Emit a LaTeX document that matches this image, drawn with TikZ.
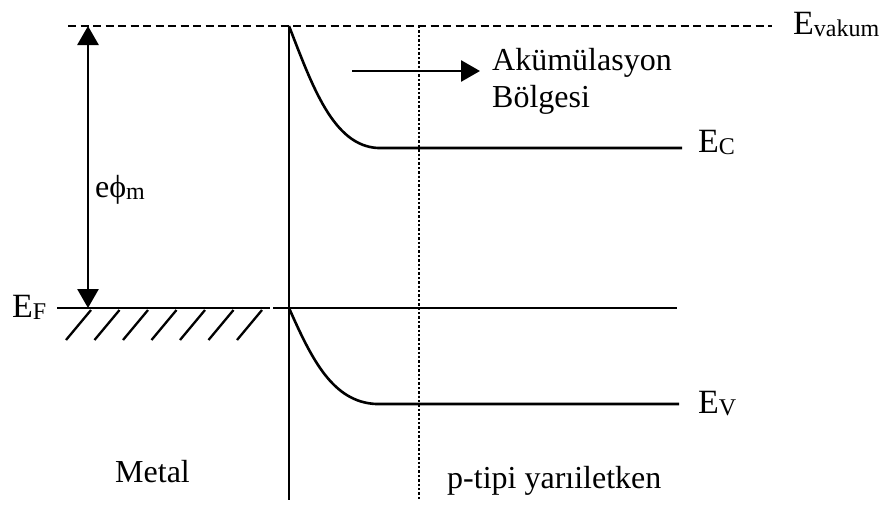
\documentclass[tikz,border=0pt]{standalone}
\usepackage{fontspec}
\setmainfont{Liberation Serif}
\usetikzlibrary{arrows.meta}
\newcommand{\subtxt}[1]{\raisebox{-2pt}{\fontsize{24}{26}\selectfont #1}}
\tikzset{
  lbl/.style={anchor=base west, inner sep=0pt, font=\fontsize{32}{38}\selectfont},
  elbl/.style={anchor=base west, inner sep=0pt, font=\fontsize{34}{40}\selectfont},
  thk/.style={line width=2.8pt},
  tip/.tip={Triangle[length=19pt,width=21pt]},
  arr/.style={thk, -tip},
  band/.style={line width=2.6pt},
}
\begin{document}
\begin{tikzpicture}[x=1pt,y=-1pt]
\useasboundingbox (0,0) rectangle (888,504);
% coordinates
\coordinate (vacL) at (68,26);
\coordinate (vacR) at (772,26);
\coordinate (jTop) at (289,26);
\coordinate (jBot) at (289,500);
\coordinate (dTop) at (419,26);
\coordinate (dBot) at (419,500);
\coordinate (fL) at (57,308);
\coordinate (fM) at (270,308);
\coordinate (fM2) at (273,308);
\coordinate (fJ) at (289,308);
\coordinate (fR) at (677,308);
\coordinate (cS) at (378,148);
\coordinate (cR) at (682,148);
\coordinate (vS) at (376,404);
\coordinate (vR) at (679,404);
\coordinate (aTop) at (88,26);
\coordinate (aBot) at (88,308);
\coordinate (acS) at (352,71);
\coordinate (acE) at (480,71);
% lines
\draw[line width=2.2pt, dash pattern=on 8pt off 4.5pt] (vacL) -- (vacR);
\draw[thk] (jTop) -- (jBot);
\draw[line width=2.4pt, dotted] (dTop) -- (dBot);
\draw[band] (fL) -- (fM);
\draw[band] (fM2) -- (fR);
\draw[band] (jTop) .. controls (312,85) and (333,146) .. (cS) -- (cR);
\draw[band] (fJ) .. controls (312,360) and (333,402) .. (vS) -- (vR);
% hatching
\foreach \i in {0,...,6}{
  \draw[line width=2.3pt] ({66+28.5*\i},340) -- ({91+28.5*\i},310);
}
% arrows
\draw[thk, tip-tip] (aTop) -- (aBot);
\draw[arr] (acS) -- (acE);
% labels
\node[elbl] (evak) at (793,34) {E\subtxt{vakum}};
\node[elbl] (ec) at (698,152) {E\subtxt{C}};
\node[elbl] (ev) at (698,413) {E\subtxt{V}};
\node[elbl] (ef) at (12,317) {E\subtxt{F}};
\node[lbl] (ephi) at (95,197) {e\char"03D5\subtxt{m}};
\node[lbl] (ak) at (492,70) {Akümülasyon};
\node[lbl] (bo) at (492,107) {Bölgesi};
\node[lbl] (met) at (115,482) {Metal};
\node[lbl] (pt) at (447,488) {p-tipi yarıiletken};
\end{tikzpicture}
\end{document}
